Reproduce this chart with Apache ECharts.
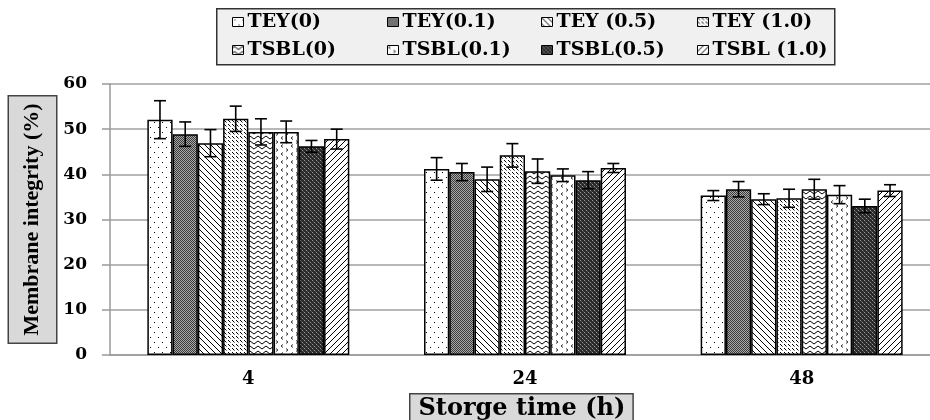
<!DOCTYPE html>
<html>
<head>
<meta charset="utf-8">
<script src="https://cdn.jsdelivr.net/npm/echarts@6.0.0/dist/echarts.min.js"></script>
<style>
html,body{margin:0;padding:0;background:#fff;}
#chart{width:930px;height:420px;}
</style>
</head>
<body>
<div id="chart"></div>
<script>
// ---- data ----
var categories = ['4', '24', '48'];
var seriesNames = ['TEY(0)', 'TEY(0.1)', 'TEY (0.5)', 'TEY (1.0)', 'TSBL(0)', 'TSBL(0.1)', 'TSBL(0.5)', 'TSBL (1.0)'];
var yTicks = [0, 10, 20, 30, 40, 50, 60];

var TEY0    = [52.1, 41.2, 35.3];
var TEY01   = [48.9, 40.5, 36.7];
var TEY05   = [46.9, 38.9, 34.5];
var TEY10   = [52.3, 44.2, 34.7];
var TSBL0   = [49.4, 40.7, 36.7];
var TSBL01  = [49.4, 39.8, 35.5];
var TSBL05  = [46.2, 38.7, 33.0];
var TSBL10  = [47.8, 41.4, 36.4];

var errTEY0   = [4.2, 2.5, 1.1];
var errTEY01  = [2.7, 1.9, 1.7];
var errTEY05  = [3.0, 2.7, 1.2];
var errTEY10  = [2.8, 2.6, 2.0];
var errTSBL0  = [2.9, 2.7, 2.2];
var errTSBL01 = [2.4, 1.4, 2.0];
var errTSBL05 = [1.3, 1.9, 1.5];
var errTSBL10 = [2.2, 1.0, 1.3];

var allValues = [TEY0, TEY01, TEY05, TEY10, TSBL0, TSBL01, TSBL05, TSBL10];
var allErrors = [errTEY0, errTEY01, errTEY05, errTEY10, errTSBL0, errTSBL01, errTSBL05, errTSBL10];

// ---- patterns (styles) ----
function pat(w, h, bg, draw) {
  var c = document.createElement('canvas');
  c.width = w; c.height = h;
  var g = c.getContext('2d');
  g.fillStyle = bg; g.fillRect(0, 0, w, h);
  draw(g, w, h);
  return { image: c, repeat: 'repeat' };
}
function diag(g, s, dir) {
  g.strokeStyle = '#000'; g.lineWidth = 1;
  for (var k = -1; k <= 1; k++) {
    g.beginPath();
    if (dir > 0) { g.moveTo(k * s - 1, -1); g.lineTo(k * s + s + 1, s + 1); }
    else { g.moveTo(k * s - 1, s + 1); g.lineTo(k * s + s + 1, -1); }
    g.stroke();
  }
}
var patterns = [
  pat(8, 10, '#fff', function (g) { g.fillStyle = '#000'; g.fillRect(2, 2, 1, 1); g.fillRect(6, 7, 1, 1); }),
  pat(2, 2, '#aaa', function (g) { g.fillStyle = '#3a3a3a'; g.fillRect(0, 0, 1, 1); g.fillRect(1, 1, 1, 1); }),
  pat(6, 6, '#fff', function (g, w) { diag(g, w, 1); }),
  pat(8, 8, '#fff', function (g) {
    g.strokeStyle = '#000'; g.lineWidth = 1;
    [[0, 0], [4, 0], [0, 4], [4, 4]].forEach(function (p) {
      g.beginPath(); g.moveTo(p[0], p[1]); g.lineTo(p[0] + 2.5, p[1] + 2.5); g.stroke();
    });
  }),
  pat(8, 5, '#fff', function (g) {
    g.strokeStyle = '#000'; g.lineWidth = 1;
    g.beginPath(); g.moveTo(0, 2.5); g.quadraticCurveTo(2, -0.5, 4, 2.5); g.quadraticCurveTo(6, 5.5, 8, 2.5); g.stroke();
  }),
  pat(10, 8, '#fff', function (g) {
    g.strokeStyle = '#333'; g.lineWidth = 1;
    g.beginPath(); g.moveTo(3, 0.5); g.lineTo(1, 2); g.lineTo(3, 3.5); g.stroke();
    g.beginPath(); g.moveTo(6, 4.5); g.lineTo(8, 6); g.lineTo(6, 7.5); g.stroke();
  }),
  pat(4, 4, '#2a2a2a', function (g) { g.fillStyle = '#9a9a9a'; g.fillRect(0, 0, 1, 1); g.fillRect(2, 2, 1, 1); g.fillStyle = '#555'; g.fillRect(1, 1, 1, 1); g.fillRect(3, 3, 1, 1); }),
  pat(6, 6, '#fff', function (g, w) { diag(g, w, -1); })
];

var FONT = 'DejaVu Serif';
var CAT_GAP = 0.27;

var barSeries = seriesNames.map(function (name, i) {
  return {
    name: name,
    type: 'bar',
    data: allValues[i],
    barGap: '0%',
    barCategoryGap: (CAT_GAP * 100) + '%',
    itemStyle: { color: patterns[i], borderColor: '#000', borderWidth: 1.5 },
    emphasis: { disabled: true },
    z: 2
  };
});

var errData = [];
allValues.forEach(function (vals, s) {
  vals.forEach(function (v, c) { errData.push([c, s, v, allErrors[s][c]]); });
});

function renderErr(params, api) {
  var c = api.value(0), s = api.value(1), v = api.value(2), e = api.value(3);
  var center = api.coord([c, v]);
  var band = api.size([1, 0])[0];
  var bw = band * (1 - CAT_GAP) / seriesNames.length;
  var x = center[0] + (s - (seriesNames.length - 1) / 2) * bw;
  var top = api.coord([c, v + e])[1];
  var bot = api.coord([c, v - e])[1];
  var hw = 6;
  var st = { stroke: '#000', lineWidth: 1.6 };
  return {
    type: 'group',
    children: [
      { type: 'line', shape: { x1: x, y1: top, x2: x, y2: bot }, style: st },
      { type: 'line', shape: { x1: x - hw, y1: top, x2: x + hw, y2: top }, style: st },
      { type: 'line', shape: { x1: x - hw, y1: bot, x2: x + hw, y2: bot }, style: st }
    ]
  };
}

var legendCols = [232, 387, 541, 697];
var legends = legendCols.map(function (left, k) {
  return {
    orient: 'vertical',
    left: left,
    top: 12,
    padding: 0,
    itemGap: 8,
    itemWidth: 11,
    itemHeight: 9,
    icon: 'rect',
    selectedMode: false,
    itemStyle: { borderColor: '#000', borderWidth: 1 },
    data: [seriesNames[k], seriesNames[k + 4]],
    textStyle: { fontFamily: FONT, fontWeight: 'bold', fontSize: 19, color: '#000', lineHeight: 20, padding: [0, 0, 0, -1] }
  };
});

var chart = echarts.init(document.getElementById('chart'), null, { renderer: 'canvas' });
chart.setOption({
  backgroundColor: '#fff',
  animation: false,
  graphic: [
    { type: 'rect', left: 216, top: 8, shape: { width: 618, height: 56 }, style: { fill: '#f0f0f0', stroke: '#333', lineWidth: 1.5 }, z: 0 },
    { type: 'text', left: 409, top: 393, z: 10,
      style: { text: 'Storge time (h)', font: 'bold 24px "DejaVu Serif"', fill: '#000',
               backgroundColor: '#d9d9d9', borderColor: '#444', borderWidth: 1.5, padding: [2, 7, 6, 8] } }
  ],
  legend: legends,
  grid: { left: 110, top: 84, width: 830, height: 271, containLabel: false, outerBoundsMode: 'none' },
  xAxis: {
    type: 'category',
    data: categories,
    axisLine: { show: true, lineStyle: { color: '#999', width: 1.5 } },
    axisTick: { show: false },
    axisLabel: { fontFamily: FONT, fontWeight: 'bold', fontSize: 18, color: '#000', margin: 15 },
    splitLine: { show: false }
  },
  yAxis: {
    type: 'value',
    min: yTicks[0],
    max: yTicks[yTicks.length - 1],
    interval: 10,
    name: 'Membrane integrity (%)',
    nameLocation: 'middle',
    nameRotate: 90,
    nameGap: 54,
    nameMoveOverlap: false,
    nameTextStyle: { fontFamily: 'Liberation Serif', fontWeight: 'bold', fontSize: 22, color: '#000',
                     backgroundColor: '#d9d9d9', borderColor: '#444', borderWidth: 1.5, padding: [10, 7, 11, 7], lineHeight: 26 },
    axisLine: { show: true, lineStyle: { color: '#999', width: 1.5 } },
    axisTick: { show: true, inside: false, length: 8, lineStyle: { color: '#999', width: 1.5 } },
    axisLabel: { fontFamily: FONT, fontWeight: 'bold', fontSize: 17, color: '#000', margin: 23 },
    splitLine: { show: true, lineStyle: { color: '#a0a0a0', width: 1.5 } }
  },
  series: barSeries.concat([{
    name: 'errorbars',
    type: 'custom',
    renderItem: renderErr,
    data: errData,
    encode: { x: 0, y: 2 },
    z: 5,
    silent: true
  }])
});
</script>
</body>
</html>
